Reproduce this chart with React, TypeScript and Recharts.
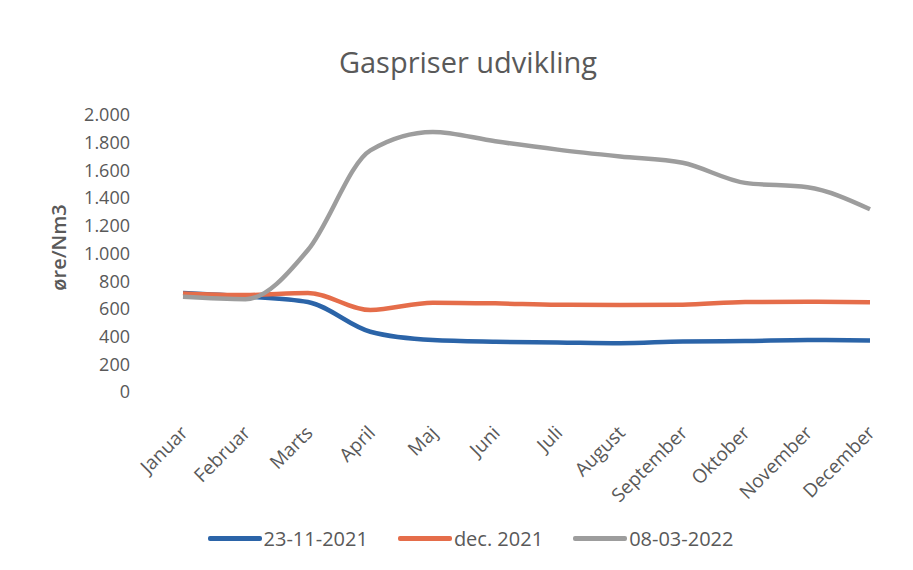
import { LineChart, Line, XAxis, YAxis, Legend } from "recharts";

const months = [
  "Januar", "Februar", "Marts", "April", "Maj", "Juni",
  "Juli", "August", "September", "Oktober", "November", "December",
];
const nov2021 = [715, 690, 650, 435, 375, 363, 358, 352, 365, 368, 375, 372];
const dec2021 = [712, 700, 715, 592, 645, 640, 630, 628, 630, 650, 652, 648];
const mar2022 = [687, 670, 1025, 1745, 1878, 1810, 1750, 1700, 1655, 1510, 1478, 1320];
const yTicks = [0, 200, 400, 600, 800, 1000, 1200, 1400, 1600, 1800, 2000];

const series = [
  { key: "s1", name: "23-11-2021", color: "#2b64a8", values: nov2021 },
  { key: "s2", name: "dec. 2021", color: "#e56d4a", values: dec2021 },
  { key: "s3", name: "08-03-2022", color: "#9d9d9d", values: mar2022 },
];

const data = months.map((m, i) => ({
  month: m,
  s1: nov2021[i],
  s2: dec2021[i],
  s3: mar2022[i],
}));

const FONT = "'Open Sans', sans-serif";
const TEXT = "#595959";

const fmt = (v: number) =>
  v >= 1000 ? `${Math.floor(v / 1000)}.${String(v % 1000).padStart(3, "0")}` : String(v);

const MonthTick = (props: any) => {
  const { x, y, payload } = props;
  return (
    <g transform={`translate(${x + 6},${y + 42})`}>
      <text
        transform="rotate(-45)"
        textAnchor="end"
        fill={TEXT}
        fontSize={19}
        fontFamily={FONT}
      >
        {payload.value}
      </text>
    </g>
  );
};

const YLabel = (props: any) => {
  const vb = props.viewBox || { x: 0, y: 0, height: 0 };
  const cx = 58;
  const cy = vb.y + vb.height / 2 - 6;
  return (
    <text
      x={cx}
      y={cy}
      transform={`rotate(-90, ${cx}, ${cy})`}
      textAnchor="middle"
      dominantBaseline="central"
      fill={TEXT}
      fontSize={20}
      fontWeight={600}
      fontFamily={FONT}
    >
      øre/Nm3
    </text>
  );
};

const LegendBox = () => (
  <div
    style={{
      height: 36,
      display: "flex",
      justifyContent: "center",
      alignItems: "center",
      gap: 30,
      fontFamily: FONT,
      fontSize: 20,
      color: TEXT,
      paddingLeft: 8,
    }}
  >
    {series.map((s) => (
      <div key={s.key} style={{ display: "flex", alignItems: "center" }}>
        <span style={{ display: "inline-block", width: 54, height: 5, marginRight: 2, background: s.color, borderRadius: 2 }} />
        <span>{s.name}</span>
      </div>
    ))}
  </div>
);

export default function App() {
  return (
    <div style={{ position: "absolute", left: 0, top: 0, width: 913, height: 570, background: "#fff" }}>
      <div
        style={{
          position: "absolute",
          top: 47,
          left: 0,
          width: 936,
          textAlign: "center",
          fontFamily: FONT,
          fontSize: 29,
          lineHeight: "29px",
          color: TEXT,
        }}
      >
        Gaspriser udvikling
      </div>
      <LineChart
        width={913}
        height={570}
        data={data}
        margin={{ top: 115, right: 43, bottom: 14, left: 63 }}
      >
        <XAxis
          dataKey="month"
          axisLine={false}
          tickLine={false}
          tickSize={0}
          tickMargin={0}
          interval={0}
          height={128}
          tick={<MonthTick />}
        />
        <YAxis
          width={120}
          domain={[0, 2000]}
          ticks={yTicks}
          tickFormatter={fmt}
          axisLine={false}
          tickLine={false}
          tickSize={0}
          tickMargin={53}
          tick={{ fill: TEXT, fontSize: 18, fontFamily: FONT }}
          label={<YLabel />}
        />
        <Legend verticalAlign="bottom" content={<LegendBox />} />
        {series.map((s) => (
          <Line
            key={s.key}
            type="monotone"
            dataKey={s.key}
            name={s.name}
            stroke={s.color}
            strokeWidth={4.5}
            dot={false}
            isAnimationActive={false}
          />
        ))}
      </LineChart>
    </div>
  );
}
